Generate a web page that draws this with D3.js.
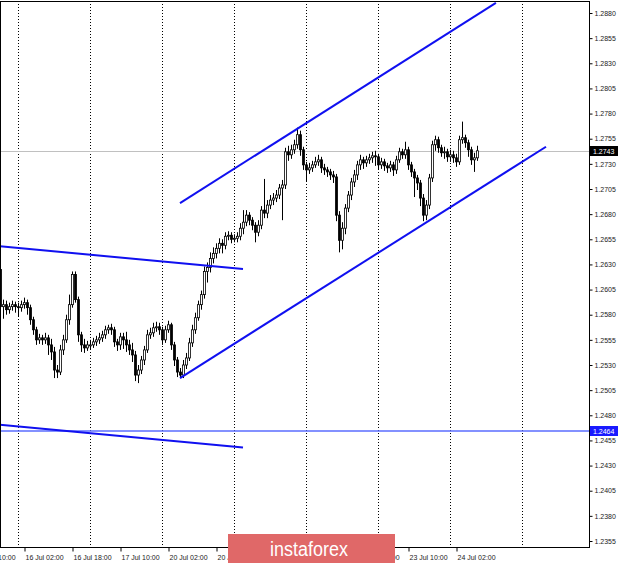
<!DOCTYPE html>
<html><head><meta charset="utf-8">
<script src="https://cdn.jsdelivr.net/npm/d3@7"></script>
<style>
html,body{margin:0;padding:0;background:#fff;}
svg{display:block;}
text{font-family:"Liberation Sans",Arial,sans-serif;}
</style></head>
<body><svg id="c" width="620" height="563"></svg>
<script>
// ---- data (hourly bars, bar 0 = 15 Jul 18:00) ----
const opens = [1.2625,1.2588,1.2590,1.2585,1.2588,1.2590,1.2588,1.2587,1.2590,1.2592,
1.2587,1.2575,1.2565,1.2555,1.2557,1.2555,1.2557,1.2550,1.2543,1.2525,
1.2523,1.2545,1.2555,1.2575,1.2590,1.2620,1.2595,1.2560,1.2550,1.2547,
1.2550,1.2550,1.2553,1.2555,1.2557,1.2560,1.2565,1.2567,1.2565,1.2553,
1.2550,1.2558,1.2555,1.2550,1.2545,1.2540,1.2520,1.2525,1.2535,1.2545,
1.2560,1.2562,1.2567,1.2568,1.2565,1.2555,1.2565,1.2570,1.2550,1.2535,
1.2523,1.2520,1.2530,1.2537,1.2552,1.2565,1.2577,1.2590,1.2600,1.2623,
1.2627,1.2636,1.2641,1.2646,1.2651,1.2649,1.2658,1.2659,1.2655,1.2656,
1.2658,1.2666,1.2672,1.2679,1.2674,1.2669,1.2662,1.2669,1.2684,1.2681,
1.2689,1.2694,1.2696,1.2699,1.2706,1.2709,1.2742,1.2739,1.2744,1.2749,
1.2759,1.2744,1.2729,1.2724,1.2726,1.2729,1.2732,1.2734,1.2726,1.2724,
1.2722,1.2719,1.2717,1.2679,1.2654,1.2666,1.2686,1.2699,1.2712,1.2719,
1.2729,1.2734,1.2731,1.2734,1.2736,1.2738,1.2737,1.2729,1.2732,1.2728,
1.2726,1.2729,1.2724,1.2734,1.2742,1.2739,1.2744,1.2729,1.2722,1.2716,
1.2711,1.2696,1.2679,1.2689,1.2716,1.2749,1.2754,1.2746,1.2741,1.2742,
1.2737,1.2739,1.2736,1.2732,1.2754,1.2756,1.2751,1.2744,1.2734,1.2736];
const highs = [1.2630,1.2595,1.2594,1.2592,1.2594,1.2593,1.2592,1.2594,1.2597,1.2595,
1.2590,1.2578,1.2568,1.2561,1.2560,1.2562,1.2560,1.2556,1.2548,1.2530,
1.2550,1.2560,1.2580,1.2600,1.2623,1.2623,1.2598,1.2563,1.2556,1.2554,
1.2555,1.2557,1.2559,1.2562,1.2564,1.2569,1.2570,1.2571,1.2568,1.2556,
1.2562,1.2562,1.2563,1.2555,1.2552,1.2544,1.2530,1.2539,1.2549,1.2565,
1.2567,1.2572,1.2573,1.2572,1.2568,1.2569,1.2574,1.2572,1.2553,1.2538,
1.2527,1.2535,1.2542,1.2557,1.2570,1.2582,1.2594,1.2604,1.2628,1.2632,
1.2642,1.2647,1.2651,1.2656,1.2655,1.2662,1.2663,1.2662,1.2660,1.2662,
1.2671,1.2684,1.2684,1.2682,1.2677,1.2672,1.2674,1.2688,1.2715,1.2694,
1.2699,1.2701,1.2704,1.2710,1.2714,1.2746,1.2748,1.2749,1.2754,1.2766,
1.2763,1.2747,1.2732,1.2731,1.2733,1.2737,1.2739,1.2737,1.2730,1.2727,
1.2725,1.2723,1.2720,1.2683,1.2672,1.2690,1.2703,1.2716,1.2724,1.2733,
1.2739,1.2737,1.2738,1.2740,1.2742,1.2743,1.2740,1.2736,1.2735,1.2731,
1.2733,1.2732,1.2738,1.2746,1.2745,1.2752,1.2747,1.2732,1.2725,1.2719,
1.2714,1.2700,1.2694,1.2720,1.2753,1.2758,1.2757,1.2749,1.2747,1.2745,
1.2744,1.2743,1.2740,1.2758,1.2772,1.2759,1.2754,1.2747,1.2741,1.2748];
const lows = [1.2583,1.2576,1.2580,1.2581,1.2584,1.2582,1.2578,1.2583,1.2586,1.2580,
1.2570,1.2560,1.2550,1.2551,1.2550,1.2551,1.2540,1.2535,1.2517,1.2517,
1.2520,1.2540,1.2552,1.2570,1.2587,1.2592,1.2553,1.2543,1.2542,1.2544,
1.2545,1.2547,1.2549,1.2551,1.2553,1.2556,1.2561,1.2560,1.2548,1.2544,
1.2545,1.2546,1.2543,1.2540,1.2533,1.2514,1.2512,1.2521,1.2530,1.2542,
1.2556,1.2558,1.2563,1.2560,1.2550,1.2552,1.2562,1.2545,1.2529,1.2518,
1.2517,1.2517,1.2526,1.2534,1.2548,1.2561,1.2574,1.2585,1.2596,1.2612,
1.2622,1.2631,1.2636,1.2641,1.2641,1.2645,1.2654,1.2651,1.2652,1.2652,
1.2654,1.2660,1.2668,1.2669,1.2664,1.2652,1.2658,1.2665,1.2676,1.2676,
1.2685,1.2689,1.2692,1.2695,1.2674,1.2705,1.2733,1.2735,1.2740,1.2745,
1.2738,1.2724,1.2712,1.2720,1.2722,1.2726,1.2728,1.2721,1.2719,1.2717,
1.2714,1.2711,1.2673,1.2642,1.2645,1.2660,1.2682,1.2694,1.2707,1.2714,
1.2724,1.2725,1.2727,1.2730,1.2731,1.2728,1.2724,1.2725,1.2723,1.2721,
1.2722,1.2718,1.2720,1.2731,1.2735,1.2735,1.2724,1.2717,1.2697,1.2704,
1.2688,1.2673,1.2674,1.2685,1.2712,1.2743,1.2741,1.2737,1.2735,1.2732,
1.2732,1.2731,1.2727,1.2729,1.2750,1.2746,1.2737,1.2729,1.2722,1.2733];
const closes = [1.2588,1.2590,1.2585,1.2588,1.2590,1.2588,1.2587,1.2590,1.2592,1.2587,
1.2575,1.2565,1.2555,1.2557,1.2555,1.2557,1.2550,1.2543,1.2525,1.2523,
1.2545,1.2555,1.2575,1.2590,1.2620,1.2595,1.2560,1.2550,1.2547,1.2550,
1.2550,1.2553,1.2555,1.2557,1.2560,1.2565,1.2567,1.2565,1.2553,1.2550,
1.2558,1.2555,1.2550,1.2545,1.2540,1.2520,1.2525,1.2535,1.2545,1.2560,
1.2562,1.2567,1.2568,1.2565,1.2555,1.2565,1.2570,1.2550,1.2535,1.2523,
1.2520,1.2530,1.2537,1.2552,1.2565,1.2577,1.2590,1.2600,1.2623,1.2627,
1.2636,1.2641,1.2646,1.2651,1.2649,1.2658,1.2659,1.2655,1.2656,1.2658,
1.2666,1.2672,1.2679,1.2674,1.2669,1.2662,1.2669,1.2684,1.2681,1.2689,
1.2694,1.2696,1.2699,1.2706,1.2709,1.2742,1.2739,1.2744,1.2749,1.2759,
1.2744,1.2729,1.2724,1.2726,1.2729,1.2732,1.2734,1.2726,1.2724,1.2722,
1.2719,1.2717,1.2679,1.2654,1.2666,1.2686,1.2699,1.2712,1.2719,1.2729,
1.2734,1.2731,1.2734,1.2736,1.2738,1.2737,1.2729,1.2732,1.2728,1.2726,
1.2729,1.2724,1.2734,1.2742,1.2739,1.2744,1.2729,1.2722,1.2716,1.2711,
1.2696,1.2679,1.2689,1.2716,1.2749,1.2754,1.2746,1.2741,1.2742,1.2737,
1.2739,1.2736,1.2732,1.2754,1.2756,1.2751,1.2744,1.2734,1.2736,1.2743];

const priceTicks = [1.2355,1.2380,1.2405,1.2430,1.2455,1.2480,1.2505,1.2530,1.2555,1.2580,1.2605,
  1.2630,1.2655,1.2680,1.2705,1.2730,1.2755,1.2780,1.2805,1.2830,1.2855,1.2880];
const timeTickBars = [-8,8,24,40,56,72,88,104,120,136,152];
const timeTickLabels = ["15 Jul 10:00","16 Jul 02:00","16 Jul 18:00","17 Jul 10:00","20 Jul 02:00",
  "20 Jul 18:00","21 Jul 10:00","22 Jul 02:00","22 Jul 18:00","23 Jul 10:00","24 Jul 02:00"];
const dayStartBars = [6,30,54,78,102,126,150,174];
// trend lines: [bar0, price0, bar1, price1]
const upperChannel = [60, 1.2691, 165.3, 1.2890];
const lowerChannel = [60, 1.2517, 182, 1.2747];
const upperLeftLine = [0, 1.2648, 81, 1.26255];
const lowerLeftLine = [0, 1.24705, 81, 1.2448];
const hLevel = 1.2464;
const lastPrice = 1.2743;

// ---- drawing ----
const svg = d3.select("#c");
const plotL = 0, plotR = 589, plotT = 1, plotB = 547;
const x = d3.scaleLinear().domain([0, 196]).range([0, 588]);
const y = d3.scaleLinear().domain([1.2355, 1.2880]).range([541, 13]);
const AX_FONT = 7;

svg.append("defs").append("clipPath").attr("id","clip")
  .append("rect").attr("x",plotL).attr("y",plotT).attr("width",plotR-plotL).attr("height",plotB-plotT);

const g = svg.append("g").attr("clip-path","url(#clip)");

// day grid
g.selectAll("line.grid").data(dayStartBars).join("line")
  .attr("x1", d=>Math.round(x(d))+0.5).attr("x2", d=>Math.round(x(d))+0.5)
  .attr("y1", plotT).attr("y2", plotB)
  .attr("stroke","#000").attr("stroke-width",1).attr("stroke-dasharray","1,2");

// last price line
g.append("line").attr("x1",plotL).attr("x2",plotR)
  .attr("y1",Math.round(y(lastPrice))+0.5).attr("y2",Math.round(y(lastPrice))+0.5)
  .attr("stroke","#c0c0c0").attr("stroke-width",1);

// horizontal level
g.append("line").attr("x1",plotL).attr("x2",plotR)
  .attr("y1",Math.round(y(hLevel))).attr("y2",Math.round(y(hLevel)))
  .attr("stroke","#5a6cff").attr("stroke-width",1.5);

// candles
const bars = closes.map((c,i)=>({i, o:opens[i], h:highs[i], l:lows[i], c}));
const cg = g.append("g");
cg.selectAll("line.w").data(bars).join("line")
  .attr("x1", d=>Math.round(x(d.i))+0.5).attr("x2", d=>Math.round(x(d.i))+0.5)
  .attr("y1", d=>y(d.h)).attr("y2", d=>y(d.l))
  .attr("stroke","#000").attr("stroke-width",1);
cg.selectAll("rect.b").data(bars).join("rect")
  .attr("x", d=>Math.round(x(d.i))-0.5)
  .attr("width", 2)
  .attr("y", d=>y(Math.max(d.o,d.c)))
  .attr("height", d=>Math.max(1, Math.abs(y(d.o)-y(d.c))))
  .attr("fill", d=> d.c>=d.o ? "#fff" : "#000")
  .attr("stroke","#000").attr("stroke-width",0.8);

// trend lines
function tline(a, w){
  g.append("line").attr("x1",x(a[0])).attr("y1",y(a[1])).attr("x2",x(a[2])).attr("y2",y(a[3]))
    .attr("stroke","#1010f0").attr("stroke-width",w);
}
tline(upperChannel,2); tline(lowerChannel,2); tline(upperLeftLine,2); tline(lowerLeftLine,2);

// frame
svg.append("rect").attr("x",plotL+0.5).attr("y",plotT+0.5).attr("width",plotR-plotL).attr("height",plotB-plotT)
  .attr("fill","none").attr("stroke","#000").attr("stroke-width",1);

// right axis
const ra = svg.append("g").attr("transform",`translate(${plotR+0.5},0)`)
  .call(d3.axisRight(y).tickValues(priceTicks).tickFormat(d3.format(".4f")).tickSize(3).tickPadding(2));
ra.select(".domain").remove();
ra.selectAll("text").attr("font-size",AX_FONT).attr("fill","#222").attr("font-family","Liberation Sans, Arial, sans-serif");
ra.selectAll("line").attr("stroke","#000");

// bottom axis
const ba = svg.append("g").attr("transform",`translate(0,${plotB+0.5})`)
  .call(d3.axisBottom(x).tickValues(timeTickBars).tickFormat((d,i)=>timeTickLabels[i]).tickSize(4).tickPadding(4));
ba.select(".domain").remove();
ba.selectAll(".tick line").attr("transform","translate(0.5,0)").attr("stroke","#000");
ba.selectAll("text").attr("font-size",AX_FONT).attr("text-anchor","start").attr("dx",1).attr("fill","#222")
  .attr("font-family","Liberation Sans, Arial, sans-serif");

// price labels on axis
function priceBox(p, fill){
  const yy = Math.round(y(p));
  svg.append("rect").attr("x",plotR+1).attr("y",yy-5).attr("width",28).attr("height",10).attr("fill",fill);
  svg.append("text").attr("x",plotR+4).attr("y",yy+3).attr("font-size",AX_FONT).attr("fill","#fff")
    .attr("font-family","Liberation Sans, Arial, sans-serif").text(d3.format(".4f")(p));
}
priceBox(lastPrice,"#000");
priceBox(hLevel,"#1a1aff");

// watermark logo
svg.append("rect").attr("x",228).attr("y",534).attr("width",167).attr("height",29).attr("fill","#e06868");
svg.append("text").attr("x",270).attr("y",556)
  .attr("font-family","Open Sans, sans-serif").attr("font-size",20).attr("fill","#fff")
  .attr("textLength",78).attr("lengthAdjust","spacingAndGlyphs").text("instaforex");
</script></body></html>
